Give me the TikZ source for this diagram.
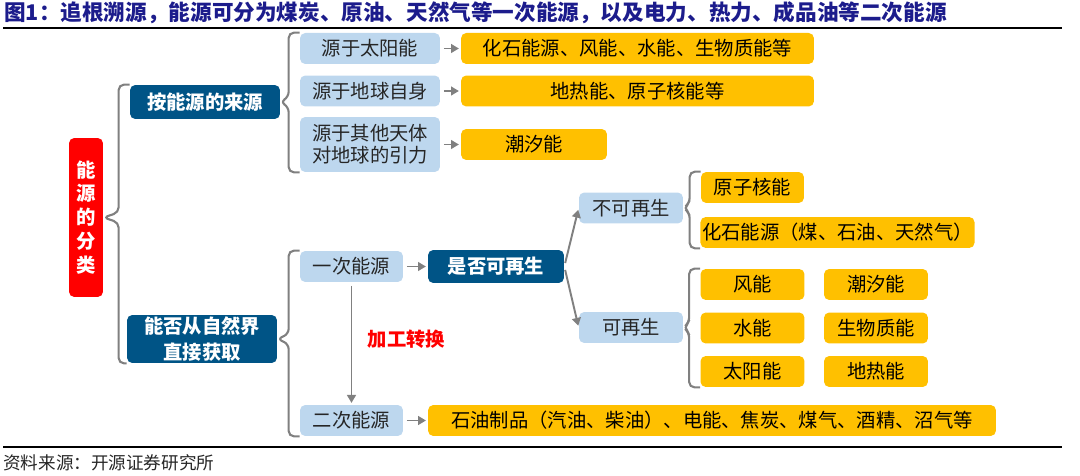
\documentclass[tikz,border=0pt]{standalone}
\usepackage{fontspec}
\setmainfont{Noto Sans CJK SC}
\usetikzlibrary{arrows.meta,calc}

\definecolor{darkblue}{RGB}{0,84,134}
\definecolor{lightblue}{RGB}{189,215,238}
\definecolor{gold}{RGB}{255,192,0}
\definecolor{navy}{RGB}{28,28,140}
\definecolor{linegray}{RGB}{128,128,128}

\tikzset{
  box/.style={rounded corners=3pt, inner sep=1pt, align=center, minimum height=0.62cm, font=\fontsize{11}{12.5}\selectfont},
  kind/.style={box, fill=darkblue, text=white, font=\bfseries\fontsize{11}{13}\selectfont},
  src/.style={box, fill=lightblue, text=black!85},
  item/.style={box, fill=gold, text=black},
  link/.style={draw=linegray, line width=1.1pt, -{Triangle[length=4.5pt,width=5pt]}, shorten >=1pt, shorten <=2pt},
  brace/.style={draw=linegray, line width=1.2pt, rounded corners=3pt},
}

% brace from #1 to the boxes #2 (top) ... #3 (bottom)
\newcommand{\bracket}[3]{%
  \draw[brace] (#2.north west) -- ++(-11,0) coordinate (bv)
    -- ($(bv |- #1.east)+(0,-5)$) -- (#1.east) -- ($(bv |- #1.east)+(0,5)$)
    -- (bv |- #3.south west) -- (#3.south west);
}

\begin{document}
\begin{tikzpicture}[x=0.02cm,y=-0.02cm]
    \useasboundingbox (0,0) rectangle (1080,476);

    % title and rules
    \node[anchor=west, inner sep=0, text=navy, font=\bfseries\fontsize{12.3}{14}\selectfont] (title) at (4,13) {图1：追根溯源，能源可分为煤炭、原油、天然气等一次能源，以及电力、热力、成品油等二次能源};
    \draw[line width=1pt] (3,28) -- (1062,28);
    \draw[line width=1pt] (3,447) -- (1062,447);
    \node[anchor=west, inner sep=0, text=black!85, font=\fontsize{10}{12}\selectfont] (note) at (3,463) {资料来源：开源证券研究所};

    % root
    \node[box, fill=red, text=white, font=\bfseries\fontsize{11}{13.6}\selectfont, minimum width=0.68cm, minimum height=3.18cm] (cls) at (86,217.5) {能\\源\\的\\分\\类};

    % by origin
    \node[kind, minimum width=3cm, minimum height=0.68cm] (origin) at (205,102) {按能源的来源};
    \node[src, minimum width=2.8cm] (sun) at (370,48.5) {源于太阳能};
    \node[src, minimum width=2.8cm] (earth) at (370,91) {源于地球自身};
    \node[src, minimum width=2.8cm, minimum height=1.1cm] (other) at (370,144.5) {源于其他天体\\对地球的引力};
    \node[item, minimum width=7.06cm] (sunitem) at (637.5,48.5) {化石能源、风能、水能、生物质能等};
    \node[item, minimum width=7.06cm] (earthitem) at (637.5,91) {地热能、原子核能等};
    \node[item, minimum width=2.92cm] (otheritem) at (534,144.5) {潮汐能};

    % by availability
    \node[kind, minimum width=3cm, minimum height=0.96cm] (direct) at (202,339) {能否从自然界\\[1.5pt]直接获取};
    \node[src, minimum width=2.06cm] (primary) at (351.5,266.5) {一次能源};
    \node[src, minimum width=2.06cm] (secondary) at (351.5,420.5) {二次能源};
    \node[kind, minimum width=2.72cm, minimum height=0.66cm] (renew) at (496,266.5) {是否可再生};
    \node[src, minimum width=2.08cm] (nonren) at (631,208) {不可再生};
    \node[src, minimum width=2.08cm] (ren) at (631,327.5) {可再生};
    \node[item, minimum width=2.06cm] (nuclear) at (752.5,187.5) {原子核能};
    \node[item, minimum width=5.42cm] (fossil) at (837.5,232.5) {化石能源（煤、石油、天然气）};
    \node[item, minimum width=2.08cm] (wind) at (752.5,284.5) {风能};
    \node[item, minimum width=2.08cm] (tide) at (876,284.5) {潮汐能};
    \node[item, minimum width=2.08cm] (hydro) at (752.5,328) {水能};
    \node[item, minimum width=2.08cm] (bio) at (876,328) {生物质能};
    \node[item, minimum width=2.08cm] (solar) at (752.5,371.5) {太阳能};
    \node[item, minimum width=2.08cm] (geo) at (876,371.5) {地热能};
    \node[item, minimum width=11.36cm] (product) at (712,420.5) {石油制品（汽油、柴油）、电能、焦炭、煤气、酒精、沼气等};
    \node[text=red, font=\bfseries\fontsize{11}{13}\selectfont] (convert) at (406.5,339) {加工转换};

    % braces
    \bracket{cls}{origin}{direct}
    \bracket{origin}{sun}{other}
    \bracket{direct}{primary}{secondary}
    \bracket{nonren}{nuclear}{fossil}
    \bracket{ren}{wind}{solar}

    % arrows
    \draw[link] (sun) -- (sunitem);
    \draw[link] (earth) -- (earthitem);
    \draw[link] (other) -- (otheritem);
    \draw[link] (primary) -- (renew);
    \draw[link] (primary) -- (secondary);
    \draw[link] (secondary) -- (product);
    \draw[link] (renew.east) -- (nonren.west);
    \draw[link] (renew.east) -- (ren.west);
\end{tikzpicture}
\end{document}
